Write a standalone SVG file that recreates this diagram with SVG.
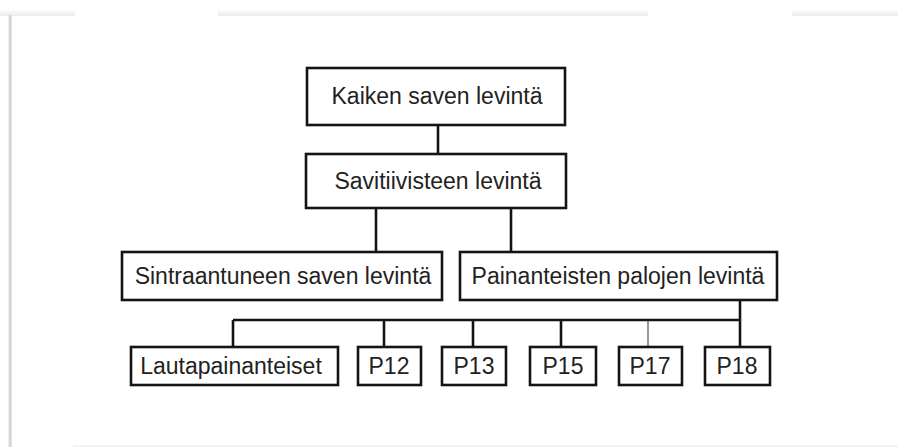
<svg xmlns="http://www.w3.org/2000/svg" width="898" height="447" viewBox="0 0 898 447">
<defs>
<linearGradient id="topband" x1="0" y1="0" x2="0" y2="1">
<stop offset="0" stop-color="#ffffff"/>
<stop offset="1" stop-color="#ececec"/>
</linearGradient>
<linearGradient id="leftband" x1="0" y1="0" x2="1" y2="0">
<stop offset="0" stop-color="#f4f4f4"/>
<stop offset="0.6" stop-color="#cfcfcf"/>
<stop offset="1" stop-color="#ededed"/>
</linearGradient>
</defs>
<style>
.box{fill:#fff;stroke:#141414;stroke-width:2.6}
.lbl{font-family:"Liberation Sans",Arial,sans-serif;font-size:23px;fill:#222;text-anchor:middle}
.con{stroke:#141414;stroke-width:2.6;fill:none}
.thin{stroke:#333;stroke-width:1;fill:none}
</style>
<rect width="898" height="447" fill="#fff"/>
<g id="frame">
<rect x="0" y="9" width="75" height="7" fill="url(#topband)"/>
<rect x="218" y="9" width="430" height="7" fill="url(#topband)"/>
<rect x="792" y="9" width="106" height="7" fill="url(#topband)"/>
<rect x="8" y="15" width="4" height="432" fill="url(#leftband)"/>
<rect x="73" y="445" width="825" height="2" fill="#f3f3f3"/>
</g>
<g id="connectors">
<line class="con" x1="438" y1="125" x2="438" y2="154"/>
<line class="con" x1="376" y1="208" x2="376" y2="252"/>
<line class="con" x1="511" y1="208" x2="511" y2="252"/>
<line class="con" x1="740" y1="300" x2="740" y2="347"/>
<line class="con" x1="233" y1="320" x2="740" y2="320"/>
<line class="con" x1="233" y1="320" x2="233" y2="347"/>
<line class="con" x1="384" y1="320" x2="384" y2="347"/>
<line class="con" x1="473" y1="320" x2="473" y2="347"/>
<line class="con" x1="561" y1="320" x2="561" y2="347"/>
<line class="thin" x1="648" y1="320" x2="648" y2="347"/>
</g>
<g id="n_kaiken">
<rect class="box" x="307" y="68" width="258" height="57"/>
<text class="lbl" x="437" y="104">Kaiken saven levintä</text>
</g>
<g id="n_savitiiviste">
<rect class="box" x="306" y="154" width="260" height="54"/>
<text class="lbl" x="438" y="189">Savitiivisteen levintä</text>
</g>
<g id="n_sintraantunut">
<rect class="box" x="122" y="252" width="320" height="48"/>
<text class="lbl" x="283" y="284">Sintraantuneen saven levintä</text>
</g>
<g id="n_painanteiset">
<rect class="box" x="460" y="252" width="317" height="48"/>
<text class="lbl" x="618" y="284">Painanteisten palojen levintä</text>
</g>
<g id="n_lauta">
<rect class="box" x="131" y="347" width="207" height="38"/>
<text class="lbl" x="231" y="374">Lautapainanteiset</text>
</g>
<g id="n_p12">
<rect class="box" x="358" y="347" width="63" height="38"/>
<text class="lbl" x="389" y="374">P12</text>
</g>
<g id="n_p13">
<rect class="box" x="442" y="347" width="64" height="38"/>
<text class="lbl" x="474" y="374">P13</text>
</g>
<g id="n_p15">
<rect class="box" x="530" y="347" width="66" height="38"/>
<text class="lbl" x="563" y="374">P15</text>
</g>
<g id="n_p17">
<rect class="box" x="619" y="347" width="63" height="38"/>
<text class="lbl" x="650" y="374">P17</text>
</g>
<g id="n_p18">
<rect class="box" x="705" y="347" width="65" height="38"/>
<text class="lbl" x="737" y="374">P18</text>
</g>
</svg>
